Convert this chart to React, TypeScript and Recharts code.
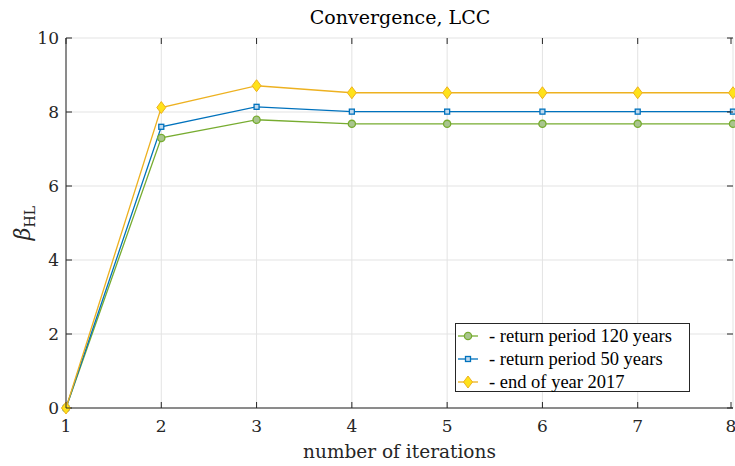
import React from "react";
import { LineChart, Line, XAxis, YAxis, CartesianGrid, Label } from "recharts";

const iterations = [1, 2, 3, 4, 5, 6, 7, 8];
const rp120 = [0, 7.3, 7.79, 7.68, 7.68, 7.68, 7.68, 7.68];
const rp50 = [0, 7.6, 8.14, 8.01, 8.01, 8.01, 8.01, 8.01];
const year2017 = [0, 8.12, 8.71, 8.52, 8.52, 8.52, 8.52, 8.52];
const xTicks = [1, 2, 3, 4, 5, 6, 7, 8];
const yTicks = [0, 2, 4, 6, 8, 10];

const seriesNames = ["- return period 120 years", "- return period 50 years", "- end of year 2017"];

const data = iterations.map((it, i) => ({ it, a: rp120[i], b: rp50[i], c: year2017[i] }));

const FONT = "'DejaVu Serif', 'Liberation Serif', serif";
const LFONT = "'Liberation Serif', 'DejaVu Serif', serif";

const GREEN = "#77AC30";
const BLUE = "#0072BD";
const YELLOW = "#EDB120";

const PLOT_TOP = 38;
const PLOT_BOTTOM = 408;
const PLOT_LEFT = 66;
const PLOT_RIGHT = 733;

const XTick = (props: any) => {
  const { x, y, payload } = props;
  return (
    <g>
      <line x1={x} x2={x} y1={PLOT_BOTTOM} y2={PLOT_BOTTOM - 6} stroke="#262626" strokeWidth={1} />
      <line x1={x} x2={x} y1={PLOT_TOP} y2={PLOT_TOP + 6} stroke="#262626" strokeWidth={1} />
      <text x={x} y={y + 16} textAnchor="middle" fontFamily={FONT} fontSize={17} fill="#262626">
        {payload.value}
      </text>
    </g>
  );
};

const YTick = (props: any) => {
  const { y, payload } = props;
  return (
    <g>
      <line x1={PLOT_LEFT} x2={PLOT_LEFT + 6} y1={y} y2={y} stroke="#262626" strokeWidth={1} />
      <line x1={PLOT_RIGHT} x2={PLOT_RIGHT - 6} y1={y} y2={y} stroke="#262626" strokeWidth={1} />
      <text x={PLOT_LEFT - 7} y={y + 6} textAnchor="end" fontFamily={FONT} fontSize={17} fill="#262626">
        {payload.value}
      </text>
    </g>
  );
};

const CircleDot = (props: any) => {
  const { cx, cy } = props;
  return <circle cx={cx} cy={cy} r={3.6} fill="#A9C58E" stroke={GREEN} strokeWidth={1.3} />;
};
const SquareDot = (props: any) => {
  const { cx, cy } = props;
  return <rect x={cx - 2.5} y={cy - 2.5} width={5} height={5} fill="#BFD9EE" stroke={BLUE} strokeWidth={1.3} />;
};
const DiamondDot = (props: any) => {
  const { cx, cy } = props;
  return (
    <path d={`M${cx},${cy - 6} L${cx + 4.5},${cy} L${cx},${cy + 6} L${cx - 4.5},${cy} Z`} fill="#FFE21A" stroke={YELLOW} strokeWidth={1} />
  );
};

const markerFor = (i: number, cx: number, cy: number) => {
  if (i === 0) return <CircleDot cx={cx} cy={cy} />;
  if (i === 1) return <SquareDot cx={cx} cy={cy} />;
  return <DiamondDot cx={cx} cy={cy} />;
};

const colors = [GREEN, BLUE, YELLOW];

const LegendBox = () => (
  <svg width={236} height={70} style={{ display: "block" }}>
    <rect x={0.5} y={0.5} width={234} height={68} fill="#fff" stroke="#262626" strokeWidth={1} />
    {seriesNames.map((n, i) => {
      const cy = 13 + i * 23;
      return (
        <g key={n}>
          <line x1={3} x2={23} y1={cy} y2={cy} stroke={colors[i]} strokeWidth={1.3} />
          {markerFor(i, 13, cy)}
          <text x={34} y={cy + 6} fontFamily={LFONT} fontSize={18.5} fill="#000">
            {n}
          </text>
        </g>
      );
    })}
  </svg>
);

const YLabel = (props: any) => {
  const { viewBox } = props;
  const cy = viewBox.y + viewBox.height / 2;
  const x = 30;
  return (
    <text transform={`rotate(-90, ${x}, ${cy})`} x={x} y={cy} textAnchor="middle" fontFamily={FONT} fill="#262626">
      <tspan fontStyle="italic" fontSize={22}>β</tspan>
      <tspan fontSize={14} dy={5}>HL</tspan>
    </text>
  );
};

export default function App() {
  return (
    <div style={{ position: "absolute", left: 0, top: 0, width: 735, height: 466, background: "#fff" }}>
      <LineChart width={735} height={466} data={data} margin={{ top: PLOT_TOP, right: 2, bottom: 0, left: 0 }}>
        <text x={400} y={24} textAnchor="middle" fontFamily={FONT} fontSize={19} fill="#000">
          Convergence, LCC
        </text>
        <CartesianGrid stroke="#E3E3E3" strokeWidth={1} />
        <XAxis
          dataKey="it"
          type="number"
          domain={[1, 8]}
          ticks={xTicks}
          height={58}
          tick={<XTick />}
          tickLine={false}
          axisLine={{ stroke: "#262626" }}
        >
          <Label
            value="number of iterations"
            position="insideBottom"
            offset={8}
            style={{ fontFamily: FONT, fontSize: 18.5, fill: "#262626" }}
          />
        </XAxis>
        <XAxis xAxisId="top" orientation="top" type="number" domain={[1, 8]} ticks={xTicks} tick={false} tickLine={false} height={0} axisLine={{ stroke: "#262626" }} />
        <YAxis
          type="number"
          domain={[0, 10]}
          ticks={yTicks}
          width={66}
          tick={<YTick />}
          tickLine={false}
          axisLine={{ stroke: "#262626" }}
        >
          <Label content={<YLabel />} />
        </YAxis>
        <YAxis yAxisId="right" orientation="right" type="number" domain={[0, 10]} ticks={yTicks} tick={false} tickLine={false} width={0} axisLine={{ stroke: "#262626" }} />
        <Line dataKey="a" stroke={GREEN} strokeWidth={1.3} dot={<CircleDot />} isAnimationActive={false} />
        <Line dataKey="b" stroke={BLUE} strokeWidth={1.3} dot={<SquareDot />} isAnimationActive={false} />
        <Line dataKey="c" stroke={YELLOW} strokeWidth={1.3} dot={<DiamondDot />} isAnimationActive={false} />
      </LineChart>
      <div style={{ position: "absolute", left: 455, top: 323, width: 236, height: 70 }}>
        <LegendBox />
      </div>
    </div>
  );
}
